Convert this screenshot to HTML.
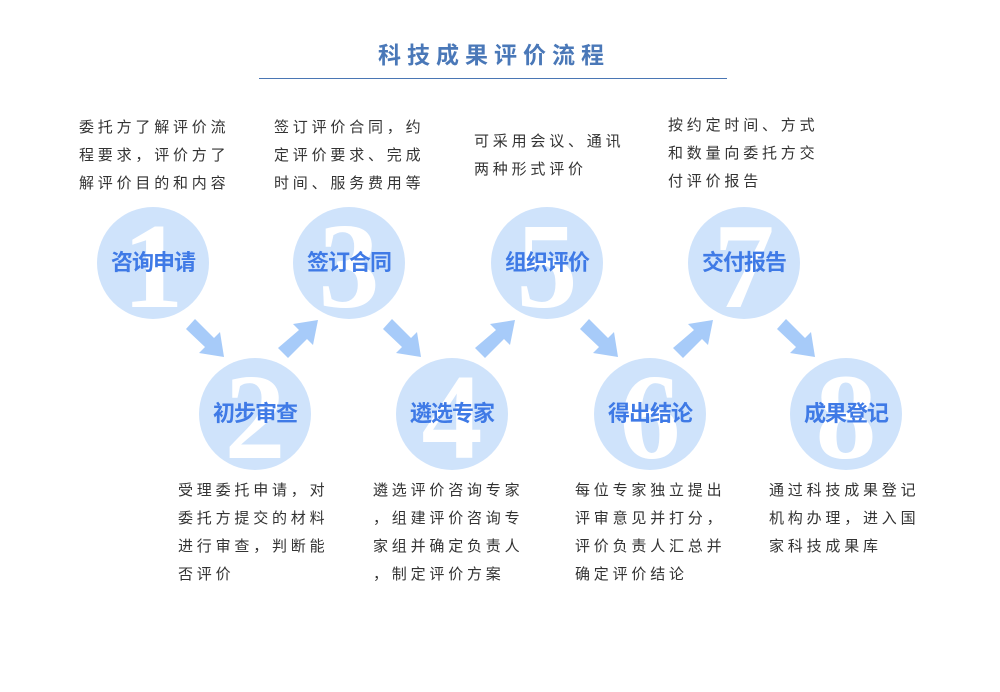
<!DOCTYPE html>
<html><head><meta charset="utf-8"><style>
body{margin:0;width:1000px;height:692px;background:#fff;position:relative;overflow:hidden;font-family:"Liberation Sans","Noto Sans CJK SC",sans-serif}
.t{position:absolute;font-size:15px;line-height:28px;letter-spacing:3.8px;color:#333;white-space:nowrap}
.title{position:absolute;left:378px;top:36px;font-size:23px;font-weight:bold;letter-spacing:6px;color:#4a78b8;white-space:nowrap}
.line{position:absolute;left:259px;top:78px;width:468px;height:1px;background:#4a76b4}
</style></head><body>
<div class="title">科技成果评价流程</div>
<div class="line"></div>
<svg width="1000" height="692" style="position:absolute;left:0;top:0">
<g fill="#cfe3fb">
<circle cx="153" cy="263" r="56"/><circle cx="349" cy="263" r="56"/><circle cx="547" cy="263" r="56"/><circle cx="744" cy="263" r="56"/>
<circle cx="255" cy="414" r="56"/><circle cx="452" cy="414" r="56"/><circle cx="650" cy="414" r="56"/><circle cx="846" cy="414" r="56"/>
</g>
<g fill="#fff" font-family="Liberation Serif,serif" font-weight="bold" font-size="122" text-anchor="middle">
<text x="153" y="307">1</text><text x="349" y="307">3</text><text x="547" y="307">5</text><text x="744" y="307">7</text>
<text x="255" y="458">2</text><text x="452" y="458">4</text><text x="650" y="458">6</text><text x="846" y="458">8</text>
</g>
<g fill="#3f7ae6" font-family="Liberation Sans,Noto Sans CJK SC,sans-serif" font-size="22" font-weight="bold" text-anchor="middle" letter-spacing="-1">
<text x="153" y="270">咨询申请</text><text x="349" y="270">签订合同</text><text x="547" y="270">组织评价</text><text x="744" y="270">交付报告</text>
<text x="255" y="421">初步审查</text><text x="452" y="421">遴选专家</text><text x="650" y="421">得出结论</text><text x="846" y="421">成果登记</text>
</g>
<g fill="#a7cbf9">
<g id="dn"><polygon points="186,329 195,319 214,338 220,332 224,357 199,353 205,347"/></g>
<use href="#dn" x="197"/><use href="#dn" x="394"/><use href="#dn" x="591"/>
<g id="up"><polygon points="278,348 288,358 307,339 313,345 318,320 293,324 299,330"/></g>
<use href="#up" x="197"/><use href="#up" x="395"/>
</g>
</svg>
<div class="t" style="left:79px;top:114px">委托方了解评价流<br>程要求，评价方了<br>解评价目的和内容</div>
<div class="t" style="left:274px;top:114px">签订评价合同，约<br>定评价要求、完成<br>时间、服务费用等</div>
<div class="t" style="left:474px;top:128px">可采用会议、通讯<br>两种形式评价</div>
<div class="t" style="left:668px;top:112px">按约定时间、方式<br>和数量向委托方交<br>付评价报告</div>
<div class="t" style="left:178px;top:477px">受理委托申请，对<br>委托方提交的材料<br>进行审查，判断能<br>否评价</div>
<div class="t" style="left:373px;top:477px">遴选评价咨询专家<br>，组建评价咨询专<br>家组并确定负责人<br>，制定评价方案</div>
<div class="t" style="left:575px;top:477px">每位专家独立提出<br>评审意见并打分，<br>评价负责人汇总并<br>确定评价结论</div>
<div class="t" style="left:769px;top:477px">通过科技成果登记<br>机构办理，进入国<br>家科技成果库</div>
</body></html>
